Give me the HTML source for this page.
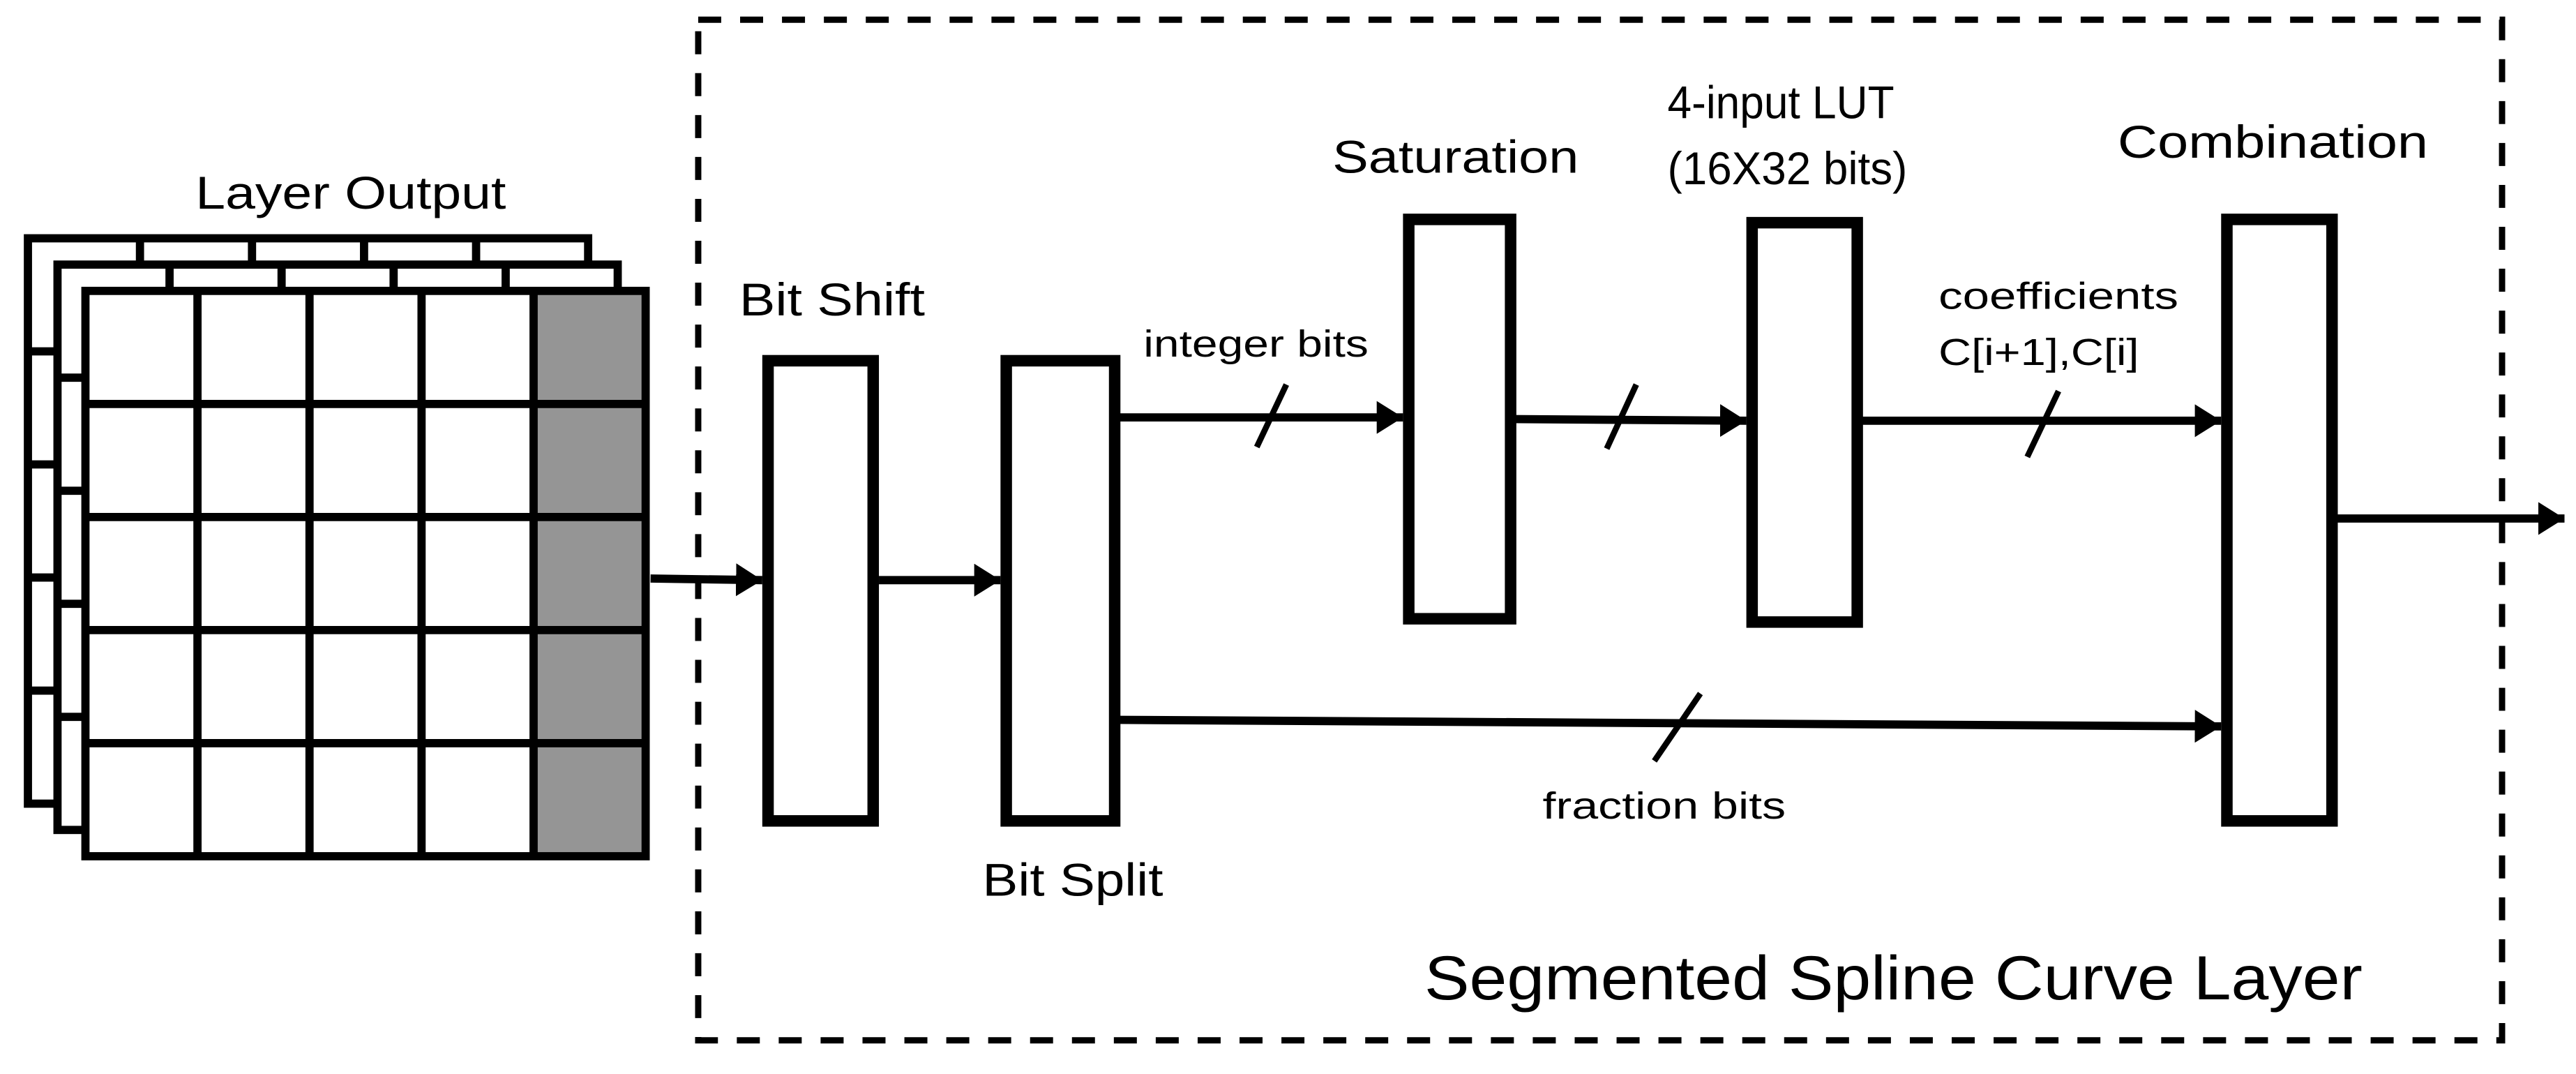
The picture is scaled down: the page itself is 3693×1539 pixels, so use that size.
<!DOCTYPE html>
<html><head><meta charset="utf-8"><style>
html,body{margin:0;padding:0;background:#fff;}
svg{display:block;}
text{font-family:"Liberation Sans",sans-serif;fill:#000;}
</style></head><body>
<svg width="3693" height="1539" viewBox="0 0 1568 653.5" preserveAspectRatio="none" xmlns="http://www.w3.org/2000/svg">
<defs>
<marker id="ah" markerWidth="4" markerHeight="4" refX="3.2" refY="2" orient="auto" markerUnits="strokeWidth">
<path d="M0,0 L3.2,2 L0,4 Z" fill="#000"/>
</marker>
<g id="grid">
<rect x="0" y="0" width="341" height="344" fill="#fff" stroke="#000" stroke-width="5"/>
<path d="M68.2,0V344M136.4,0V344M204.6,0V344M272.8,0V344M0,68.8H341M0,137.6H341M0,206.4H341M0,275.2H341" stroke="#000" stroke-width="5"/>
</g>
</defs>
<!-- stacked layers -->
<use href="#grid" x="17" y="145"/>
<use href="#grid" x="35" y="161"/>
<g transform="translate(52,177)">
<rect x="0" y="0" width="341" height="344" fill="#fff"/>
<rect x="272.8" y="0" width="68.2" height="344" fill="#959595"/>
<rect x="0" y="0" width="341" height="344" fill="none" stroke="#000" stroke-width="5"/>
<path d="M68.2,0V344M136.4,0V344M204.6,0V344M272.8,0V344M0,68.8H341M0,137.6H341M0,206.4H341M0,275.2H341" stroke="#000" stroke-width="5"/>
</g>
<text x="119" y="127" font-size="28" textLength="189" lengthAdjust="spacingAndGlyphs">Layer Output</text>

<!-- dashed container -->
<rect x="425" y="12" width="1098" height="621" fill="none" stroke="#000" stroke-width="3.8" stroke-dasharray="14,11.5"/>

<!-- boxes -->
<g fill="#fff" stroke="#000" stroke-width="7">
<rect x="467.5" y="219.5" width="64" height="280"/>
<rect x="612.5" y="219.5" width="66" height="280"/>
<rect x="857.5" y="133.5" width="62" height="243"/>
<rect x="1066.5" y="135.5" width="64" height="243"/>
<rect x="1355.5" y="133.5" width="64" height="366"/>
</g>

<!-- connectors -->
<g stroke="#000" stroke-width="5" fill="none" marker-end="url(#ah)">
<line x1="396" y1="352" x2="464" y2="353"/>
<line x1="535" y1="353" x2="609" y2="353"/>
<line x1="679" y1="254" x2="854" y2="254"/>
<line x1="920" y1="255" x2="1063" y2="256"/>
<line x1="1131" y1="256" x2="1352" y2="256"/>
<line x1="679" y1="438" x2="1352" y2="442"/>
<line x1="1420" y1="315.5" x2="1561" y2="315.5"/>
</g>
<!-- slashes -->
<g stroke="#000" stroke-width="3.6">
<line x1="765" y1="272" x2="783" y2="234"/>
<line x1="978" y1="273" x2="996" y2="234"/>
<line x1="1234" y1="278" x2="1253" y2="238"/>
<line x1="1007" y1="463" x2="1035" y2="422"/>
</g>

<!-- labels -->
<text x="450" y="192" font-size="28" textLength="113" lengthAdjust="spacingAndGlyphs">Bit Shift</text>
<text x="598" y="545" font-size="28" textLength="110" lengthAdjust="spacingAndGlyphs">Bit Split</text>
<text x="696" y="217" font-size="23" textLength="137" lengthAdjust="spacingAndGlyphs">integer bits</text>
<text x="811" y="105" font-size="28" textLength="150" lengthAdjust="spacingAndGlyphs">Saturation</text>
<text x="1015" y="72" font-size="28" textLength="138" lengthAdjust="spacingAndGlyphs">4-input LUT</text>
<text x="1015" y="112" font-size="28" textLength="146" lengthAdjust="spacingAndGlyphs">(16X32 bits)</text>
<text x="1289" y="96" font-size="28" textLength="189" lengthAdjust="spacingAndGlyphs">Combination</text>
<text x="1180" y="188" font-size="23" textLength="146" lengthAdjust="spacingAndGlyphs">coefficients</text>
<text x="1180" y="222" font-size="23" textLength="122" lengthAdjust="spacingAndGlyphs">C[i+1],C[i]</text>
<text x="939" y="498" font-size="23" textLength="148" lengthAdjust="spacingAndGlyphs">fraction bits</text>
<text x="867" y="608" font-size="38" textLength="571" lengthAdjust="spacingAndGlyphs">Segmented Spline Curve Layer</text>
</svg>
</body></html>
